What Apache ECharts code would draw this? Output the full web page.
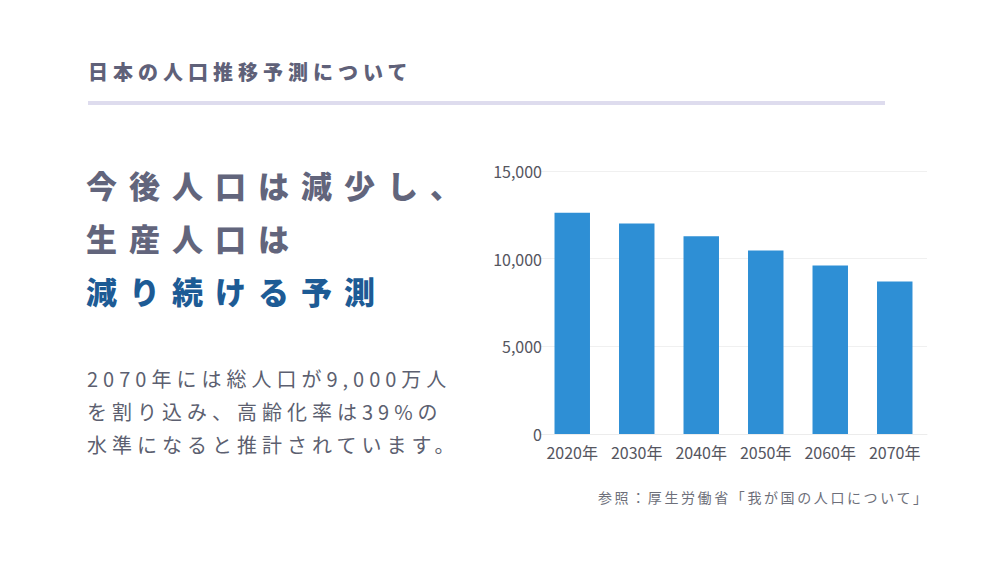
<!DOCTYPE html>
<html lang="ja">
<head>
<meta charset="UTF-8">
<title>日本の人口推移予測</title>
<script src="https://cdn.jsdelivr.net/npm/echarts@6/dist/echarts.min.js"></script>
<style>
  html, body { margin: 0; padding: 0; background: #fff; }
  body { width: 999px; height: 562px; position: relative; overflow: hidden;
         font-family: "Noto Sans CJK JP", "Noto Sans", sans-serif; }
  #chart { position: absolute; left: 0; top: 0; width: 999px; height: 562px; }
  .txt { position: absolute; white-space: nowrap; }
  #title { left: 88px; top: 57px; font-size: 20px; font-weight: 900; letter-spacing: 5px; color: #5f6179; }
  #rule { position: absolute; left: 88px; top: 101px; width: 797px; height: 4px; background: #dedcee; }
  .head { left: 86px; font-size: 31px; font-weight: 900; letter-spacing: 12px; color: #62657c; line-height: 1; }
  .blue { color: #1d5b95; }
  .para { left: 87px; font-size: 20px; letter-spacing: 5px; color: #5c5f70; line-height: 1; }
  #src { left: 598px; top: 487px; font-size: 14px; letter-spacing: 2.6px; color: #6d6f7a; }
</style>
</head>
<body>
<div id="chart"></div>
<div id="title" class="txt">日本の人口推移予測について</div>
<div id="rule"></div>
<div class="txt head" style="top:169px">今後人口は減少し、</div>
<div class="txt head" style="top:222px">生産人口は</div>
<div class="txt head blue" style="top:275px">減り続ける予測</div>
<div class="txt para" style="top:369px">2070年には総人口が9,000万人</div>
<div class="txt para" style="top:402px">を割り込み、高齢化率は39%の</div>
<div class="txt para" style="top:435px">水準になると推計されています。</div>
<div id="src" class="txt">参照：厚生労働省「我が国の人口について」</div>
<script>
// 総人口（万人）
var years = ['2020年', '2030年', '2040年', '2050年', '2060年', '2070年'];
var population = [12615, 12012, 11284, 10469, 9615, 8700];
var yTicks = { min: 0, max: 15000, step: 5000 };

var chart = echarts.init(document.getElementById('chart'), null, { renderer: 'svg' });
chart.setOption({
    animation: false,
    grid: { left: 540, right: 72, top: 171, bottom: 128 },
    xAxis: {
        type: 'category',
        data: years,
        axisTick: { show: false },
        axisLine: { lineStyle: { color: '#ececec' } },
        axisLabel: { color: '#55565f', fontSize: 16, margin: 10, interval: 0,
                     fontFamily: 'Noto Sans CJK JP' }
    },
    yAxis: {
        type: 'value',
        min: yTicks.min,
        max: yTicks.max,
        interval: yTicks.step,
        axisLine: { show: false },
        axisTick: { show: false },
        splitLine: { lineStyle: { color: '#f0f0f0' } },
        axisLabel: {
            color: '#55565f', fontSize: 16, margin: -2,
            fontFamily: 'Noto Sans CJK JP',
            formatter: function (v) { return v.toLocaleString('en-US'); }
        }
    },
    series: [{
        type: 'bar',
        data: population,
        barWidth: '55%',
        itemStyle: { color: '#2e8fd5' }
    }]
});
</script>
</body>
</html>
